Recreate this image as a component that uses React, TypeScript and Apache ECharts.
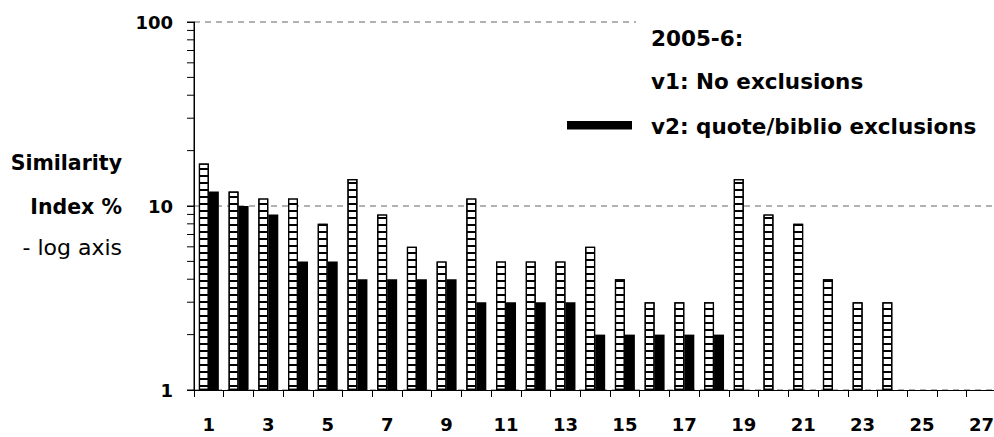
import React, { useEffect, useRef } from "react";
import * as echarts from "echarts";

const categories = ["1","2","3","4","5","6","7","8","9","10","11","12","13","14","15","16","17","18","19","20","21","22","23","24","25","26","27"];
const v1Values = [17, 12, 11, 11, 8, 14, 9, 6, 5, 11, 5, 5, 5, 6, 4, 3, 3, 3, 14, 9, 8, 4, 3, 3, null, null, null];
const v2Values = [12, 10, 9, 5, 5, 4, 4, 4, 4, 3, 3, 3, 3, 2, 2, 2, 2, 2, null, null, null, null, null, null, null, null, null];
const minorTickValues = [2, 3, 4, 5, 6, 7, 8, 9, 20, 30, 40, 50, 60, 70, 80, 90];
const majorTickValues = [1, 10, 100];
const legendTitle = "2005-6:";
const v1Name = "v1: No exclusions";
const v2Name = "v2: quote/biblio exclusions";
const axisTitleLines = ["Similarity", "Index %", "- log axis"];

const FONT = "DejaVu Sans";

export default function App() {
  const ref = useRef<HTMLDivElement>(null);
  useEffect(() => {
    if (!ref.current) return;
    const chart = echarts.init(ref.current, null, { renderer: "svg" });
    chart.setOption({
      animation: false,
      backgroundColor: "#fff",
      grid: { left: 194, top: 22, right: 0, bottom: 47, containLabel: false },
      xAxis: {
        type: "category",
        data: categories,
        axisLine: { show: true, onZero: false, lineStyle: { color: "#000", width: 1 } },
        axisTick: { show: true, length: 7, interval: 0, alignWithLabel: false, lineStyle: { color: "#000" } },
        axisLabel: {
          interval: 1,
          margin: 25,
          color: "#000",
          fontFamily: FONT,
          fontWeight: "bold",
          fontSize: 18,
        },
        splitLine: { show: false },
      },
      yAxis: {
        type: "log",
        logBase: 10,
        min: 1,
        max: 100,
        axisLine: { show: true, onZero: false, lineStyle: { color: "#000", width: 1 } },
        axisTick: { show: true, length: 7, lineStyle: { color: "#000", width: 1 } },
        axisLabel: {
          margin: 21,
          color: "#000",
          fontFamily: FONT,
          fontWeight: "bold",
          fontSize: 18,
        },
        splitLine: { show: true, lineStyle: { color: "#999", width: 1.5, type: [6, 5] } },
      },
      series: [
        {
          name: v1Name,
          type: "bar",
          data: v1Values,
          barWidth: 10,
          barGap: "0%",
          itemStyle: {
            color: "#fff",
            borderColor: "#000",
            borderWidth: 1.2,
            decal: {
              symbol: "rect",
              symbolSize: 1,
              color: "#000",
              dashArrayX: [1, 0],
              dashArrayY: [1.6, 4.2],
              rotation: 0,
            },
          },
        },
        {
          name: v2Name,
          type: "bar",
          data: v2Values,
          barWidth: 10,
          barGap: "0%",
          itemStyle: { color: "#000" },
        },
        {
          type: "custom",
          silent: true,
          clip: false,
          z: 10,
          data: minorTickValues.concat(majorTickValues).map((v) => [0, v]),
          renderItem: (params: any, api: any) => {
            const p = api.coord([0, api.value(1)]);
            const x0 = params.coordSys.x;
            const top = api.coord([0, 100])[1];
            const bottom = api.coord([0, 1])[1];
            const children: any[] = [
              {
                type: "line",
                shape: { x1: x0 - 7, y1: p[1], x2: x0, y2: p[1] },
                style: { stroke: "#000", lineWidth: 1 },
              },
            ];
            if (params.dataIndex === 0) {
              children.push({
                type: "line",
                shape: { x1: x0, y1: top, x2: x0, y2: bottom },
                style: { stroke: "#000", lineWidth: 1 },
              });
            }
            return { type: "group", children };
          },
        },
      ],
      graphic: [
        { type: "rect", z: 100, shape: { x: 636, y: 12, width: 370, height: 20 }, style: { fill: "#fff" } },
        { type: "text", z: 101, x: 651, y: 38, style: { text: legendTitle, fill: "#000", font: `bold 21.5px "${FONT}"`, verticalAlign: "middle" } },
        { type: "text", z: 101, x: 651, y: 81, style: { text: v1Name, fill: "#000", font: `bold 21.5px "${FONT}"`, verticalAlign: "middle" } },
        { type: "rect", z: 101, shape: { x: 567, y: 121, width: 65, height: 8.5 }, style: { fill: "#000" } },
        { type: "text", z: 101, x: 651, y: 126, style: { text: v2Name, fill: "#000", font: `bold 21.5px "${FONT}"`, verticalAlign: "middle" } },
        { type: "text", z: 101, x: 122, y: 163, style: { text: axisTitleLines[0], fill: "#000", font: `bold 20.5px "${FONT}"`, align: "right", verticalAlign: "middle" } },
        { type: "text", z: 101, x: 122, y: 207, style: { text: axisTitleLines[1], fill: "#000", font: `bold 20.5px "${FONT}"`, align: "right", verticalAlign: "middle" } },
        { type: "text", z: 101, x: 122, y: 247, style: { text: axisTitleLines[2], fill: "#000", font: `22px "${FONT}"`, align: "right", verticalAlign: "middle" } },
      ],
    });
    return () => chart.dispose();
  }, []);
  return (
    <div
      ref={ref}
      style={{ position: "fixed", left: 0, top: 0, width: 997, height: 437 }}
    />
  );
}
